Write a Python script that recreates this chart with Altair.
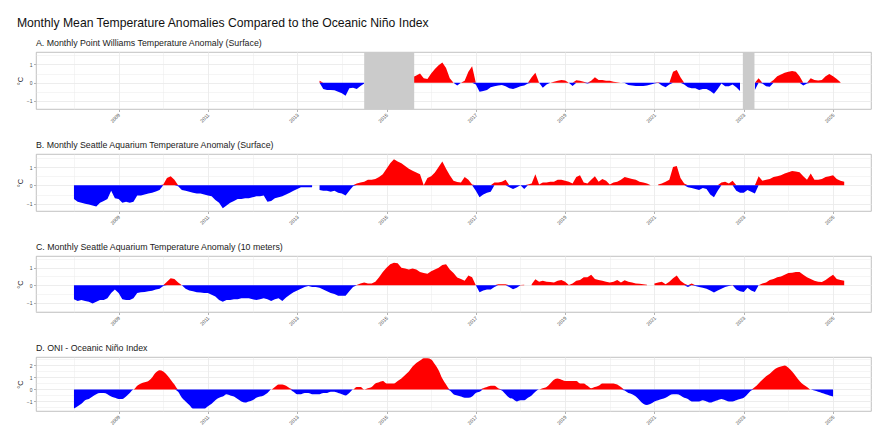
import altair as alt
import pandas as pd

# ---------------- data (monthly anomalies, °C) ----------------
# Panel A: Point Williams, surface – starts July 2013 (None = no data)
point_williams = [
    0.1, -0.35, -0.4, -0.4, -0.42, -0.5,                                   # 2013 Jul-Dec
    -0.58, -0.72, -0.3, -0.27, -0.35, -0.18, -0.05, None, None, None, None, None,  # 2014
    None, None, None, None, None, None, None, 0.3, 0.4, 0.5, 0.24, 0.2,    # 2015
    0.5, 0.75, 0.95, 1.1, 0.8, 0.25, 0.0, -0.15, 0.0, 0.1, 0.6, 0.9,       # 2016
    -0.1, -0.5, -0.45, -0.4, -0.25, -0.2, -0.15, -0.13, -0.2, -0.3, -0.35, -0.28,  # 2017
    -0.2, -0.15, -0.05, 0.3, 0.55, 0.0, -0.27, -0.1, 0.0, 0.05, 0.1, 0.15, # 2018
    0.12, 0.0, -0.18, 0.13, 0.1, 0.05, -0.05, 0.1, 0.3, 0.15, 0.15, 0.1,   # 2019
    0.1, 0.05, 0.02, 0.0, -0.02, -0.12, -0.15, -0.18, -0.18, -0.18, -0.15, -0.1,  # 2020
    -0.05, 0.03, -0.15, -0.25, -0.1, 0.6, 0.7, 0.3, -0.1, -0.25, -0.3, -0.3,  # 2021
    -0.4, -0.35, -0.35, -0.45, -0.6, -0.35, -0.05, -0.2, -0.2, -0.1, -0.25, -0.45,  # 2022
    None, None, None, -0.4, 0.25, -0.05, -0.2, -0.22, 0.15, 0.35, 0.45, 0.55,  # 2023
    0.6, 0.64, 0.6, 0.35, -0.15, -0.05, 0.25, 0.15, 0.12, 0.15, 0.35, 0.48,   # 2024
    0.35, 0.2, 0.02,                                                       # 2025
]

# Panel B: Seattle Aquarium, surface – starts January 2008
aquarium_surface = [
    -0.75, -0.9, -0.95, -1.0, -1.05, -1.1, -1.15, -0.95, -0.85, -0.75, -0.3, -0.7,   # 2008
    -0.75, -0.95, -0.9, -0.95, -0.9, -0.55, -0.55, -0.5, -0.45, -0.4, -0.33, -0.25,  # 2009
    0.05, 0.4, 0.5, 0.3, -0.05, -0.25, -0.3, -0.35, -0.4, -0.45, -0.45, -0.5,        # 2010
    -0.55, -0.6, -0.8, -0.95, -1.25, -1.1, -0.95, -0.85, -0.75, -0.75, -0.7, -0.7,   # 2011
    -0.65, -0.6, -0.6, -0.55, -0.9, -0.85, -0.7, -0.65, -0.6, -0.5, -0.4, -0.3,      # 2012
    -0.2, -0.1, -0.1, -0.1, -0.1, None, -0.25, -0.3, -0.3, -0.35, -0.3, -0.4,        # 2013
    -0.45, -0.55, -0.3, -0.05, 0.1, 0.15, 0.2, 0.3, 0.3, 0.35, 0.45, 0.6,            # 2014
    0.9, 1.2, 1.42, 1.3, 1.2, 1.05, 0.9, 0.8, 0.7, 0.6, 0.0, 0.4,                    # 2015
    0.5, 0.7, 1.0, 1.3, 0.9, 0.55, 0.25, 0.18, 0.15, 0.45, 0.3, 0.05,                # 2016
    -0.3, -0.65, -0.5, -0.4, -0.35, 0.15, 0.15, 0.2, 0.3, -0.1, -0.2, -0.1,          # 2017
    0.0, -0.2, 0.05, 0.1, 0.6, 0.05, 0.15, 0.15, 0.2, 0.2, 0.3, 0.3,                 # 2018
    0.25, 0.2, 0.1, 0.45, 0.55, 0.15, 0.1, 0.3, 0.5, 0.2, 0.35, 0.25,                # 2019
    0.05, 0.15, 0.2, 0.3, 0.45, 0.4, 0.35, 0.3, 0.2, 0.15, 0.1, 0.0,                 # 2020
    None, 0.05, 0.1, 0.2, 0.3, 1.0, 1.05, 0.4, 0.1, -0.1, -0.15, -0.2,               # 2021
    -0.25, -0.15, -0.2, -0.5, -0.65, -0.3, 0.15, 0.2, 0.1, 0.25, -0.3, -0.4,         # 2022
    -0.4, -0.25, -0.35, -0.45, 0.5, 0.25, 0.3, 0.35, 0.45, 0.5, 0.55, 0.65,          # 2023
    0.72, 0.78, 0.75, 0.72, 0.5, 0.3, 0.65, 0.3, 0.3, 0.35, 0.45, 0.5,               # 2024
    0.55, 0.35, 0.25, 0.2,                                                           # 2025
]

# Panel C: Seattle Aquarium, 10 meters – starts January 2008
aquarium_10m = [
    -0.8, -0.9, -0.85, -0.9, -0.95, -1.05, -0.95, -0.85, -0.85, -0.75, -0.45, -0.25, # 2008
    -0.45, -0.8, -0.85, -0.85, -0.75, -0.45, -0.4, -0.38, -0.35, -0.32, -0.25, -0.2, # 2009
    -0.05, 0.2, 0.4, 0.35, 0.15, 0.0, -0.2, -0.3, -0.35, -0.4, -0.42, -0.45,         # 2010
    -0.45, -0.55, -0.65, -0.85, -0.95, -0.85, -0.85, -0.8, -0.8, -0.75, -0.75, -0.75,  # 2011
    -0.8, -0.85, -0.8, -0.75, -0.8, -0.9, -0.8, -0.75, -0.9, -0.7, -0.55, -0.4,      # 2012
    -0.3, -0.2, -0.1, -0.05, -0.1, -0.1, -0.15, -0.25, -0.35, -0.45, -0.5, -0.6,     # 2013
    -0.6, -0.6, -0.35, -0.1, 0.02, 0.1, 0.15, 0.1, 0.1, 0.2, 0.45, 0.75,             # 2014
    1.0, 1.2, 1.28, 1.25, 1.0, 0.95, 0.9, 0.95, 0.9, 0.75, 0.7, 0.65,                # 2015
    0.8, 0.9, 1.0, 1.15, 1.2, 0.9, 0.7, 0.44, 0.35, 0.25, 0.55, 0.45,                # 2016
    0.0, -0.4, -0.3, -0.25, -0.25, -0.1, 0.05, 0.05, 0.05, -0.1, -0.23, -0.15,       # 2017
    0.02, 0.03, None, 0.05, 0.34, 0.2, 0.25, 0.2, 0.18, 0.15, 0.25, 0.3,             # 2018
    0.2, 0.02, 0.1, 0.25, 0.3, 0.45, 0.45, 0.6, 0.35, 0.3, 0.25, 0.2,                # 2019
    0.15, 0.2, 0.3, 0.15, 0.28, 0.2, 0.15, 0.1, 0.08, 0.05, 0.03, None,              # 2020
    0.1, 0.15, 0.2, 0.05, 0.2, 0.4, 0.55, 0.25, 0.1, -0.1, 0.1, -0.05,               # 2021
    -0.1, -0.15, -0.2, -0.3, -0.42, -0.3, -0.2, -0.1, -0.05, 0.02, -0.25, -0.35,     # 2022
    -0.38, -0.15, -0.3, -0.38, 0.0, 0.1, 0.15, 0.3, 0.35, 0.45, 0.5, 0.6,            # 2023
    0.7, 0.72, 0.75, 0.76, 0.6, 0.45, 0.35, 0.25, 0.2, 0.18, 0.3, 0.45,              # 2024
    0.6, 0.35, 0.3, 0.25,                                                            # 2025
]

# Panel D: Oceanic Niño Index – starts January 2008
oni = [
    -1.6, -1.4, -1.2, -0.9, -0.8, -0.6, -0.4, -0.3, -0.3, -0.4, -0.6, -0.7,   # 2008
    -0.8, -0.8, -0.6, -0.3, 0.0, 0.3, 0.5, 0.6, 0.7, 1.0, 1.4, 1.6,           # 2009
    1.5, 1.2, 0.8, 0.4, -0.2, -0.7, -1.0, -1.3, -1.6, -1.6, -1.6, -1.6,       # 2010
    -1.4, -1.2, -0.9, -0.7, -0.6, -0.4, -0.5, -0.6, -0.8, -1.0, -1.1, -1.0,   # 2011
    -0.9, -0.7, -0.6, -0.5, -0.3, 0.0, 0.2, 0.4, 0.4, 0.3, 0.1, -0.2,         # 2012
    -0.4, -0.4, -0.3, -0.3, -0.4, -0.4, -0.4, -0.3, -0.3, -0.2, -0.2, -0.3,   # 2013
    -0.4, -0.5, -0.3, 0.0, 0.2, 0.2, 0.0, 0.1, 0.2, 0.5, 0.6, 0.7,            # 2014
    0.5, 0.5, 0.5, 0.7, 0.9, 1.2, 1.5, 1.9, 2.2, 2.4, 2.6, 2.6,               # 2015
    2.5, 2.1, 1.6, 0.9, 0.4, -0.1, -0.4, -0.5, -0.6, -0.7, -0.7, -0.6,        # 2016
    -0.3, -0.2, 0.1, 0.2, 0.3, 0.3, 0.1, -0.1, -0.4, -0.7, -0.8, -1.0,        # 2017
    -0.9, -0.9, -0.7, -0.5, -0.2, 0.0, 0.1, 0.2, 0.5, 0.8, 0.9, 0.8,          # 2018
    0.7, 0.7, 0.7, 0.7, 0.5, 0.5, 0.3, 0.1, 0.2, 0.3, 0.5, 0.5,               # 2019
    0.5, 0.5, 0.4, 0.2, -0.1, -0.3, -0.4, -0.6, -0.9, -1.2, -1.3, -1.2,       # 2020
    -1.0, -0.9, -0.8, -0.7, -0.5, -0.4, -0.4, -0.5, -0.7, -0.8, -1.0, -1.0,   # 2021
    -1.0, -0.9, -1.0, -1.1, -1.0, -0.9, -0.8, -0.9, -1.0, -1.0, -0.9, -0.8,   # 2022
    -0.7, -0.4, -0.1, 0.2, 0.5, 0.8, 1.1, 1.3, 1.6, 1.8, 1.9, 2.0,            # 2023
    1.8, 1.5, 1.1, 0.7, 0.4, 0.2, 0.0, -0.1, -0.2, -0.3, -0.4, -0.5,          # 2024
    -0.6,                                                                     # 2025
]

# periods without Point Williams data (shaded)
gap_start = [2014.50, 2022.98]
gap_end = [2015.62, 2023.24]

panel_titles = [
    "A. Monthly Point Williams Temperature Anomaly (Surface)",
    "B. Monthly Seattle Aquarium Temperature Anomaly (Surface)",
    "C. Monthly Seattle Aquarium Temperature Anomaly (10 meters)",
    "D. ONI - Oceanic Niño Index",
]
main_title = "Monthly Mean Temperature Anomalies Compared to the Oceanic Niño Index"

X_DOMAIN = [2007.15, 2025.85]
W = 835
FONT = "Liberation Sans"
MAJOR_Y = "abs(datum.value - round(datum.value)) < 0.01"


def frame(values, start_year, start_month):
    rows, seg = [], 0
    for i, v in enumerate(values):
        if v is None:
            seg += 1
            continue
        t = start_year + (start_month - 1 + i) / 12.0
        rows.append({"t": t, "v": v, "pos": max(v, 0.0), "neg": min(v, 0.0), "seg": seg})
    return pd.DataFrame(rows)


x_axis = alt.Axis(
    values=list(range(2008, 2026)),
    labelExpr="datum.value % 2 == 1 ? format(datum.value, 'd') : ''",
    labelAngle=315,
    labelAlign="right",
    labelBaseline="middle",
    labelFontSize=5,
    labelColor="#4d4d4d",
    labelPadding=2,
    labelOverlap=False,
    tickColor={"condition": {"test": "datum.value % 2 == 1", "value": "#b3b3b3"}, "value": "rgba(0,0,0,0)"},
    tickSize=2.5,
    gridColor="#ebebeb",
    gridWidth={"condition": {"test": "datum.value % 2 == 1", "value": 0.9}, "value": 0.5},
    domain=False,
    title=None,
)


def y_axis(vals):
    return alt.Axis(
        values=vals,
        labelExpr=MAJOR_Y + " ? format(round(datum.value), 'd') : ''",
        labelFontSize=5,
        labelColor="#4d4d4d",
        labelPadding=1.5,
        labelOverlap=False,
        labelFlush=False,
        labelBound=False,
        tickColor={"condition": {"test": MAJOR_Y, "value": "#b3b3b3"}, "value": "rgba(0,0,0,0)"},
        tickSize=2.5,
        gridColor="#ebebeb",
        gridWidth={"condition": {"test": MAJOR_Y, "value": 0.9}, "value": 0.5},
        domain=False,
        title="°C",
        titleFontSize=7.5,
        titleFontWeight="normal",
        titleColor="#222222",
        titlePadding=2,
    )


def panel(df, title, ydom, yvals, height, interp="linear", gaps=None):
    xs = alt.Scale(domain=X_DOMAIN, nice=False, zero=False)
    ys = alt.Scale(domain=ydom, nice=False, zero=False)
    base = alt.Chart(df)
    pos = base.mark_area(color="#ff0000", interpolate=interp).encode(
        x=alt.X("t:Q", scale=xs, axis=x_axis),
        y=alt.Y("pos:Q", scale=ys, axis=y_axis(yvals), stack=False),
        y2=alt.datum(0),
        detail="seg:N",
    )
    neg = base.mark_area(color="#0000ff", interpolate=interp).encode(
        x=alt.X("t:Q", scale=xs, axis=x_axis),
        y=alt.Y("neg:Q", scale=ys, axis=y_axis(yvals), stack=False),
        y2=alt.datum(0),
        detail="seg:N",
    )
    layers = [pos, neg]
    if gaps is not None:
        rect = alt.Chart(gaps).mark_rect(color="#cbcbcb").encode(
            x=alt.X("start:Q", scale=xs, axis=x_axis),
            x2="end:Q",
            y=alt.value(0),
            y2=alt.value(height),
        )
        layers.append(rect)
    return alt.layer(*layers).properties(
        width=W,
        height=height,
        title=alt.TitleParams(title, anchor="start", frame="group", fontSize=8.8,
                              fontWeight="normal", color="#1a1a1a", font=FONT, offset=4),
    )


gaps_df = pd.DataFrame({"start": gap_start, "end": gap_end})
yv = [-1.5, -1, -0.5, 0, 0.5, 1, 1.5]

pA = panel(frame(point_williams, 2013, 7), panel_titles[0], [-1.44, 1.68], yv, 57, gaps=gaps_df)
pB = panel(frame(aquarium_surface, 2008, 1), panel_titles[1], [-1.40, 1.71], yv, 57)
pC = panel(frame(aquarium_10m, 2008, 1), panel_titles[2], [-1.53, 1.67], yv, 56)
pD = panel(frame(oni, 2008, 1), panel_titles[3], [-1.80, 2.70],
           [-1.5, -1, -0.5, 0, 0.5, 1, 1.5, 2, 2.5], 54, interp="monotone")

chart = (
    alt.vconcat(pA, pB, pC, pD, spacing=45, bounds="flush")
    .properties(
        title=alt.TitleParams(main_title, anchor="start", fontSize=12.2, fontWeight="normal",
                              color="#111111", font=FONT, offset=10, dx=1),
        padding={"left": 7, "top": 8, "right": 5, "bottom": 5},
        background="white",
    )
    .configure_view(stroke="#b3b3b3", strokeWidth=0.8)
    .configure_axis(labelFont=FONT, titleFont=FONT)
)

chart.save("out.html", embed_options={"renderer": "svg", "actions": False})
